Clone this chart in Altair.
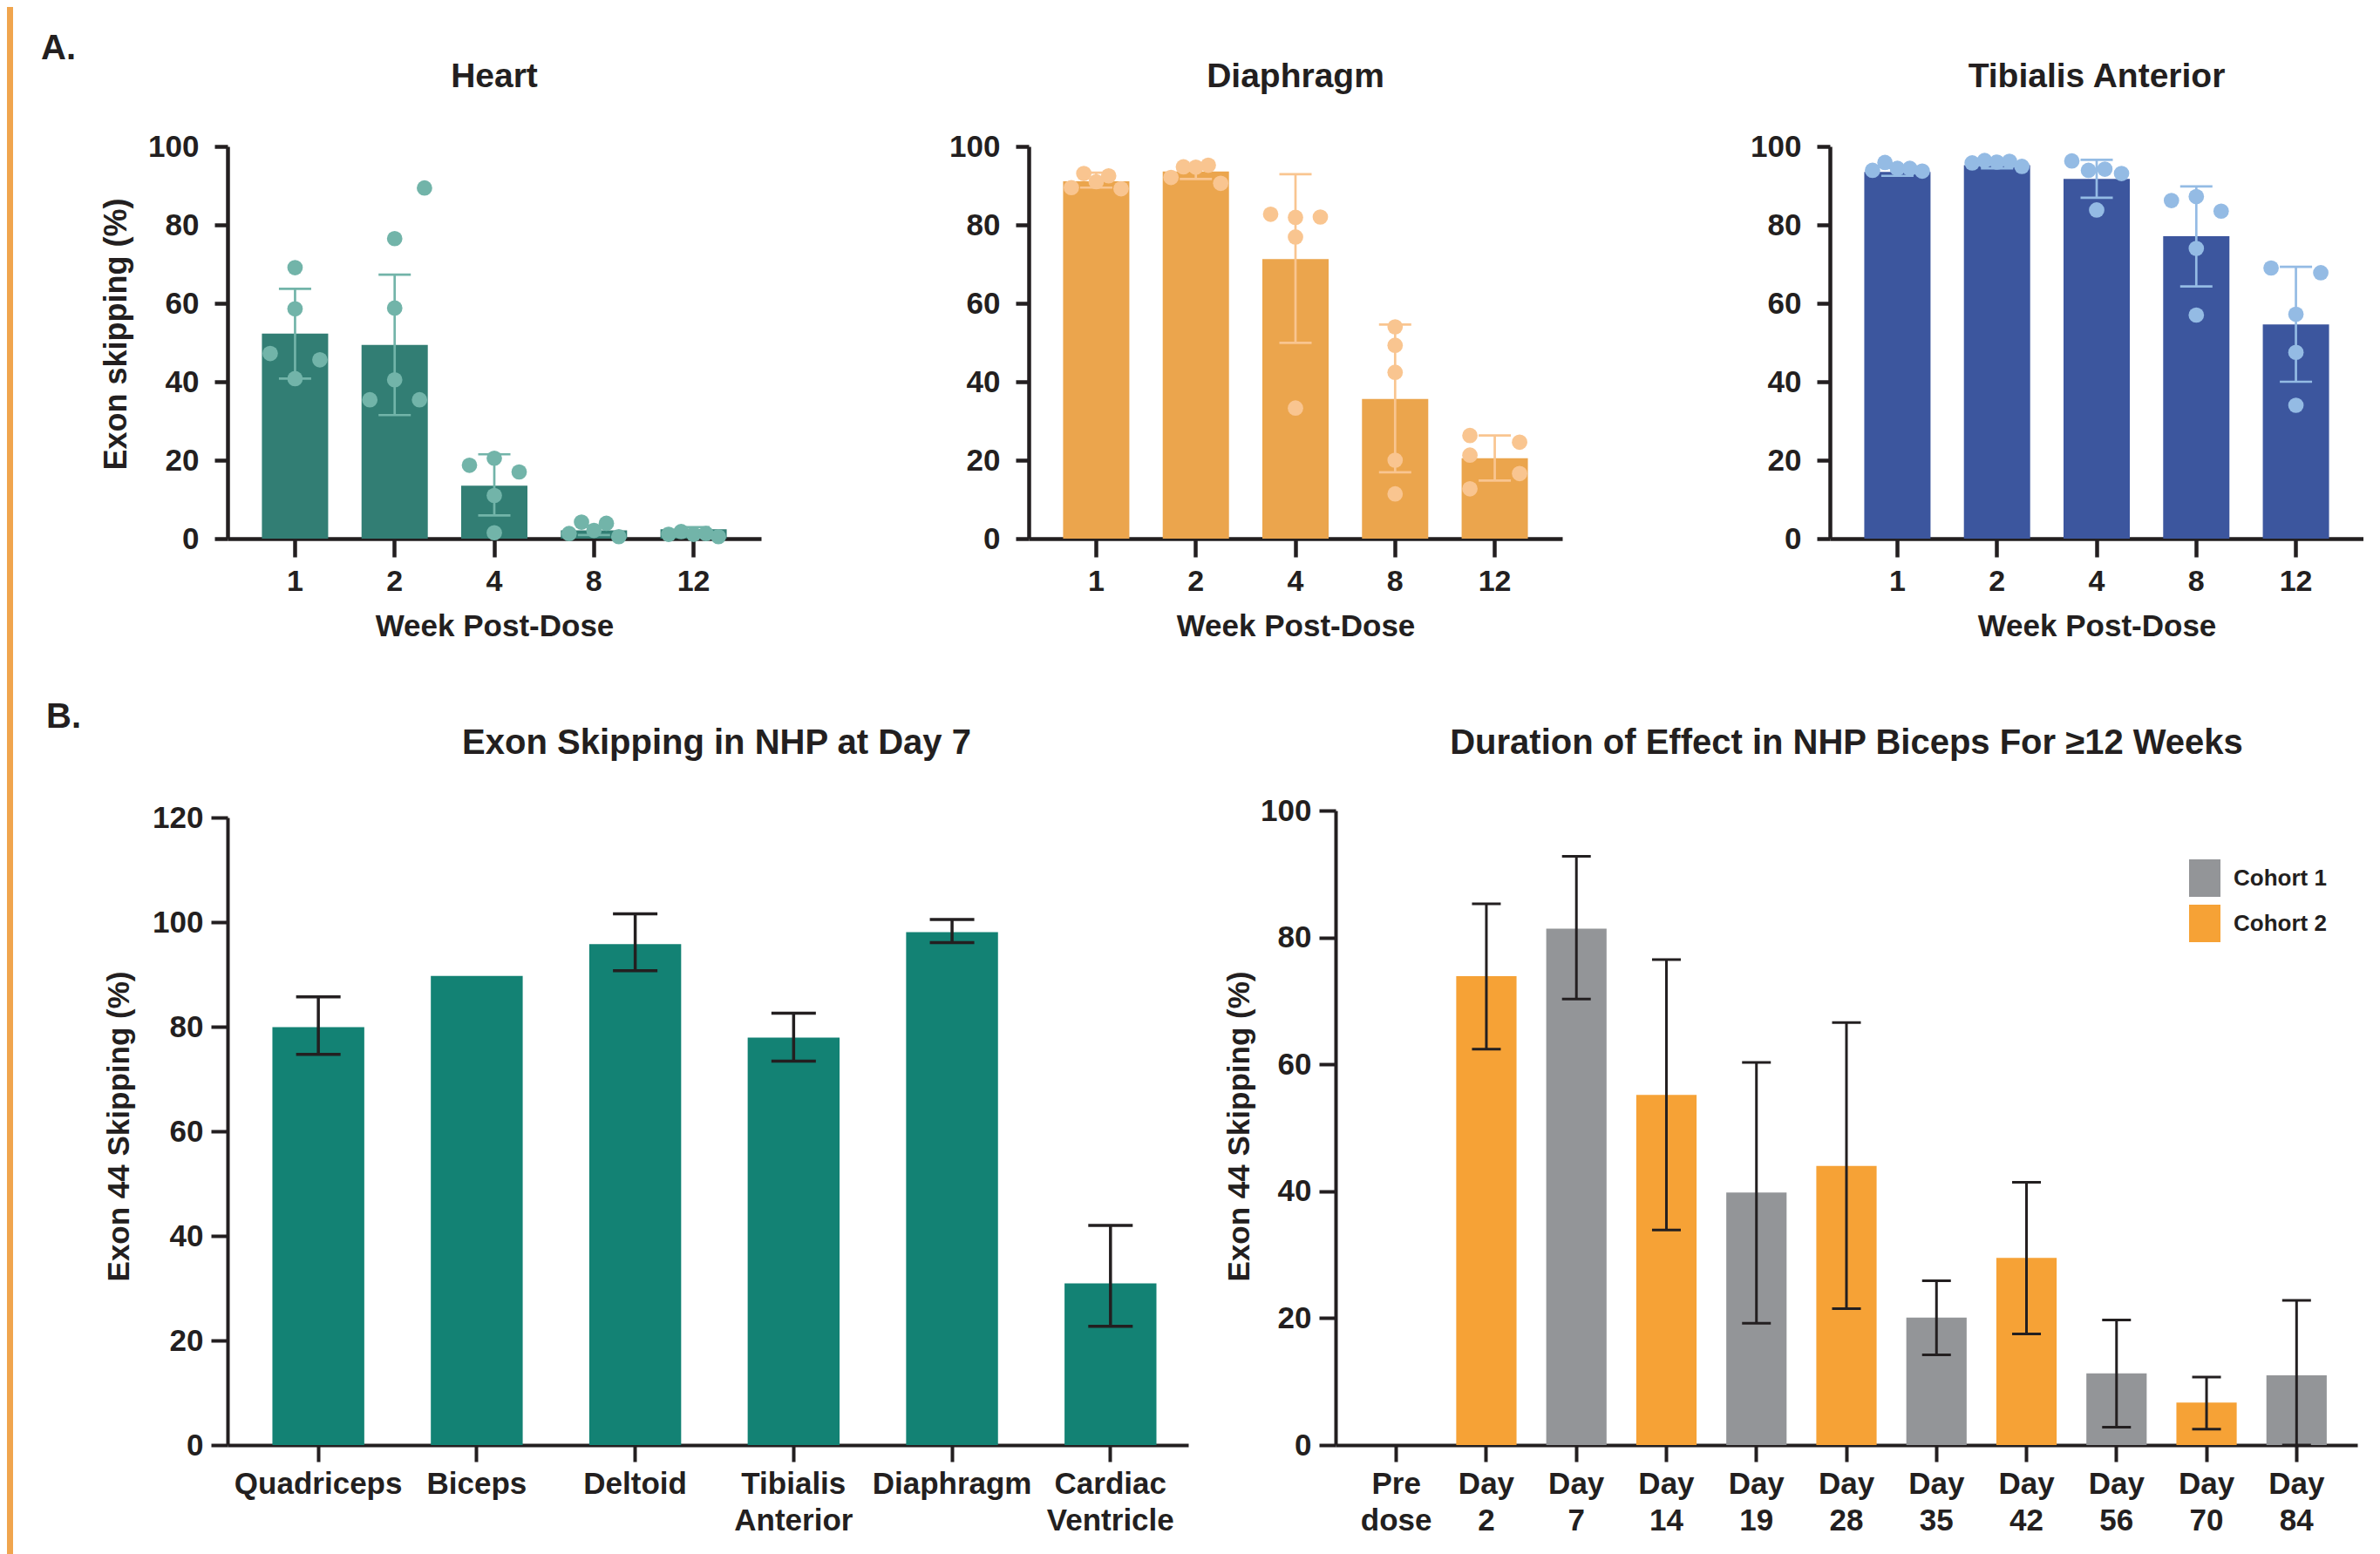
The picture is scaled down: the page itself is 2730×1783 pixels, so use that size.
import altair as alt
import pandas as pd

# ---------------- data ----------------
WEEKS = ["1", "2", "4", "8", "12"]

heart_mean = [52.3, 49.4, 13.5, 2.1, 2.4]
heart_lo = [40.8, 31.5, 5.9, 0.9, 1.9]
heart_hi = [63.7, 67.3, 21.5, 3.3, 2.9]
heart_pts = [[69.1, 58.6, 47.2, 45.6, 40.8],
             [89.4, 76.5, 58.8, 40.5, 35.4, 35.4],
             [20.5, 18.7, 17.0, 11.0, 1.5],
             [4.2, 3.9, 2.1, 1.3, 0.5],
             [1.1, 1.8, 1.1, 1.3, 0.5]]
heart_slots = [[0, 0, -1, 1, 0],
               [1.2, 0, 0, 0, -1, 1],
               [0, -1, 1, 0, 0],
               [-0.5, 0.5, 0, -1, 1],
               [-1, -0.5, 0, 0.5, 1]]

diaph_mean = [91.1, 93.6, 71.3, 35.6, 20.5]
diaph_lo = [89.5, 91.7, 49.9, 16.9, 14.8]
diaph_hi = [93.3, 95.0, 92.9, 54.6, 26.3]
diaph_pts = [[93.1, 92.5, 91.0, 89.5, 89.2],
             [94.8, 94.7, 95.2, 92.1, 90.6],
             [82.7, 81.9, 82.0, 76.9, 33.3],
             [54.0, 49.3, 42.4, 20.0, 11.4],
             [26.3, 21.3, 12.7, 24.6, 16.6]]
diaph_slots = [[-0.5, 0.5, 0, -1, 1],
               [-0.5, 0, 0.5, -1, 1],
               [-1, 0, 1, 0, 0],
               [0, 0, 0, 0, 0],
               [-1, -1, -1, 1, 1]]

ta_mean = [93.5, 95.2, 91.7, 77.1, 54.6]
ta_lo = [92.5, 94.4, 86.9, 64.3, 40.0]
ta_hi = [94.5, 96.0, 96.6, 89.8, 69.3]
ta_pts = [[93.9, 95.9, 94.4, 94.4, 93.7],
          [95.8, 96.4, 96.0, 96.2, 94.9],
          [96.3, 93.9, 94.2, 93.1, 83.8],
          [86.2, 87.2, 83.5, 74.0, 57.0],
          [69.0, 67.8, 57.2, 47.5, 34.0]]
ta_slots = [[-1, -0.5, 0, 0.5, 1],
            [-1, -0.5, 0, 0.5, 1],
            [-1, -0.33, 0.33, 1, 0],
            [-1, 0, 1, 0, 0],
            [-1, 1, 0, 0, 0]]

TISSUES = ["Quadriceps", "Biceps", "Deltoid", "Tibialis|Anterior", "Diaphragm", "Cardiac|Ventricle"]
tissue_mean = [79.9, 89.7, 95.8, 77.9, 98.1, 30.9]
tissue_lo = [74.7, None, 90.7, 73.4, 96.1, 22.7]
tissue_hi = [85.7, None, 101.6, 82.6, 100.5, 42.0]

DAYS = ["Pre|dose", "Day|2", "Day|7", "Day|14", "Day|19", "Day|28", "Day|35",
        "Day|42", "Day|56", "Day|70", "Day|84"]
day_cohort = [None, "Cohort 2", "Cohort 1", "Cohort 2", "Cohort 1", "Cohort 2",
              "Cohort 1", "Cohort 2", "Cohort 1", "Cohort 2", "Cohort 1"]
day_mean = [None, 73.9, 81.4, 55.2, 39.8, 44.0, 20.1, 29.5, 11.3, 6.7, 11.0]
day_lo = [None, 62.4, 70.3, 33.9, 19.2, 21.5, 14.2, 17.5, 2.8, 2.5, 0.0]
day_hi = [None, 85.3, 92.8, 76.5, 60.3, 66.6, 25.9, 41.4, 19.7, 10.7, 22.8]

# ---------------- style ----------------
INK = "#231F20"
FONT = "Liberation Sans"
STRIPE = "#F0A54E"
SLOT_PX = 28.5


def text_layer(txt, x, y, size, align="center"):
    return alt.Chart(pd.DataFrame({"t": [txt]})).mark_text(
        font=FONT, fontSize=size, fontWeight="bold", color=INK,
        align=align, baseline="middle").encode(
        x=alt.value(x), y=alt.value(y), text="t:N")


def rect_layer(x, x2, y, y2, color, opacity=1.0):
    return alt.Chart(pd.DataFrame({"k": [0]})).mark_rect(
        color=color, opacity=opacity).encode(
        x=alt.value(x), x2=alt.value(x2), y=alt.value(y), y2=alt.value(y2))


TW, TH = 612, 450


def top_panel(title, mean, lo, hi, pts, slots, bar_c, pt_c, first=False):
    summ = pd.DataFrame({"week": WEEKS, "mean": mean, "lo": lo, "hi": hi})
    rows = []
    for w, vals, sl in zip(WEEKS, pts, slots):
        for v, s in zip(vals, sl):
            rows.append({"week": w, "val": v, "slot": s})
    pdf = pd.DataFrame(rows)

    xscale = alt.Scale(domain=WEEKS, paddingInner=0.335, paddingOuter=0.345)
    xaxis = alt.Axis(labelAngle=0, domainWidth=4.5, domainColor=INK, tickWidth=4.5,
                     tickColor=INK, tickSize=21, labelPadding=11, labelFontSize=34,
                     labelFont=FONT, labelFontWeight="bold", labelColor=INK,
                     title="Week Post-Dose", titleFont=FONT, titleFontSize=35,
                     titleFontWeight="bold", titleColor=INK, titleX=TW / 2, titleY=100,
                     titleBaseline="middle", titleAlign="center", grid=False)

    def X():
        return alt.X("week:N", sort=WEEKS, scale=xscale, axis=xaxis)

    yscale = alt.Scale(domain=[0, 100], nice=False)
    ykw = dict(values=[0, 20, 40, 60, 80, 100], domainWidth=4.5, domainColor=INK,
               tickWidth=4.5, tickColor=INK, tickSize=15, labelPadding=18,
               labelFontSize=35, labelFont=FONT, labelFontWeight="bold",
               labelColor=INK, grid=False)
    if first:
        yaxis = alt.Axis(title="Exon skipping (%)", titleFont=FONT, titleFontSize=36,
                         titleFontWeight="bold", titleColor=INK, titleX=-128,
                         titleY=215, titleAngle=270, titleBaseline="middle",
                         titleAlign="center", **ykw)
    else:
        yaxis = alt.Axis(title=None, **ykw)

    def Y(field):
        return alt.Y(field, scale=yscale, axis=yaxis)

    bars = alt.Chart(summ).mark_bar(color=bar_c, width=alt.RelativeBandSize(1)).encode(
        x=X(), y=Y("mean:Q"))
    rule = alt.Chart(summ).mark_rule(color=pt_c, strokeWidth=2.7).encode(
        x=X(), y=Y("lo:Q"), y2="hi:Q")
    tick_hi = alt.Chart(summ).mark_tick(color=pt_c, thickness=2.7, size=37, opacity=1).encode(
        x=X(), y=Y("hi:Q"))
    tick_lo = alt.Chart(summ).mark_tick(color=pt_c, thickness=2.7, size=37, opacity=1).encode(
        x=X(), y=Y("lo:Q"))
    layers = [bars, rule, tick_hi, tick_lo]
    for s in sorted(set(pdf["slot"])):
        layers.append(
            alt.Chart(pdf[pdf["slot"] == s]).mark_circle(
                color=pt_c, size=315, opacity=1, xOffset=s * SLOT_PX).encode(
                x=X(), y=Y("val:Q")))
    layers.append(text_layer(title, TW / 2, -80, 39))
    if first:
        layers += [text_layer("A.", -214, -112, 40, align="left"),
                   rect_layer(-253, -246, -160, 600, STRIPE)]
    else:
        layers += [rect_layer(0, 1, -160, -150, "#ffffff", opacity=0)]
    return alt.layer(*layers).properties(width=TW, height=TH)


heart = top_panel("Heart", heart_mean, heart_lo, heart_hi, heart_pts, heart_slots,
                  "#327E74", "#72B4A9", first=True)
diaph = top_panel("Diaphragm", diaph_mean, diaph_lo, diaph_hi, diaph_pts, diaph_slots,
                  "#EBA54D", "#F9C590")
tib = top_panel("Tibialis Anterior", ta_mean, ta_lo, ta_hi, ta_pts, ta_slots,
                "#3C569E", "#94BBE4")

BH = 728


def bottom_axis_x():
    return alt.Axis(labelAngle=0, labelExpr="split(datum.value, '|')", labelLineHeight=42,
                    domainWidth=4, domainColor=INK, tickWidth=4, tickColor=INK,
                    tickSize=19, labelPadding=8, labelFontSize=35, labelFont=FONT,
                    labelFontWeight="bold", labelColor=INK, labelOverlap=False,
                    labelLimit=0, title=None, grid=False)


def bottom_axis_y(values, tx):
    return alt.Axis(values=values, domainWidth=4, domainColor=INK, tickWidth=4,
                    tickColor=INK, tickSize=19, labelPadding=9, labelFontSize=35,
                    labelFont=FONT, labelFontWeight="bold", labelColor=INK, grid=False,
                    title="Exon 44 Skipping (%)", titleFont=FONT, titleFontSize=35,
                    titleFontWeight="bold", titleColor=INK, titleX=tx, titleY=362,
                    titleAngle=270, titleBaseline="middle", titleAlign="center")


# ---- bottom-left ----
BLW = 1102
bl_df = pd.DataFrame({"tissue": TISSUES, "mean": tissue_mean, "lo": tissue_lo, "hi": tissue_hi})
bl_err = bl_df.dropna()
bl_xs = alt.Scale(domain=TISSUES, paddingInner=0.42, paddingOuter=0.242, align=0.585)
bl_xa = bottom_axis_x()
bl_ys = alt.Scale(domain=[0, 120], range=[BH, 8], nice=False)
bl_ya = bottom_axis_y([0, 20, 40, 60, 80, 100, 120], -125)


def BLX():
    return alt.X("tissue:N", sort=TISSUES, scale=bl_xs, axis=bl_xa)


def BLY(f):
    return alt.Y(f, scale=bl_ys, axis=bl_ya)


bl = alt.layer(
    alt.Chart(bl_df).mark_bar(color="#138274", width=alt.RelativeBandSize(1)).encode(
        x=BLX(), y=BLY("mean:Q")),
    alt.Chart(bl_err).mark_rule(color=INK, strokeWidth=3.5).encode(
        x=BLX(), y=BLY("lo:Q"), y2="hi:Q"),
    alt.Chart(bl_err).mark_tick(color=INK, thickness=3.5, size=51, opacity=1).encode(
        x=BLX(), y=BLY("hi:Q")),
    alt.Chart(bl_err).mark_tick(color=INK, thickness=3.5, size=51, opacity=1).encode(
        x=BLX(), y=BLY("lo:Q")),
    text_layer("Exon Skipping in NHP at Day 7", 561, -77, 40),
    text_layer("B.", -208, -107, 40, align="left"),
    rect_layer(-253, -246, -162, 853, STRIPE),
).properties(width=BLW, height=BH)

# ---- bottom-right ----
BRW = 1172
br_df = pd.DataFrame({"day": DAYS, "cohort": day_cohort, "mean": day_mean,
                      "lo": day_lo, "hi": day_hi}).dropna()
br_xs = alt.Scale(domain=DAYS, paddingInner=0.33, paddingOuter=0.34)
br_xa = bottom_axis_x()
br_ys = alt.Scale(domain=[0, 100], nice=False)
br_ya = bottom_axis_y([0, 20, 40, 60, 80, 100], -111)


def BRX():
    return alt.X("day:N", sort=DAYS, scale=br_xs, axis=br_xa)


def BRY(f):
    return alt.Y(f, scale=br_ys, axis=br_ya)


legend = alt.Legend(orient="none", legendX=2250, legendY=821.5, title=None,
                    symbolType="M-1,-1.2H1V1.2H-1Z", symbolSize=1296,
                    symbolStrokeWidth=0, symbolOpacity=1, labelFont=FONT,
                    labelFontSize=26, labelFontWeight="bold", labelColor=INK,
                    labelOffset=15, rowPadding=8, padding=0)
br = alt.layer(
    alt.Chart(br_df).mark_bar(width=alt.RelativeBandSize(1)).encode(
        x=BRX(), y=BRY("mean:Q"),
        color=alt.Color("cohort:N",
                        scale=alt.Scale(domain=["Cohort 1", "Cohort 2"],
                                        range=["#939598", "#F6A236"]),
                        legend=legend)),
    alt.Chart(br_df).mark_rule(color=INK, strokeWidth=3).encode(
        x=BRX(), y=BRY("lo:Q"), y2="hi:Q"),
    alt.Chart(br_df).mark_tick(color=INK, thickness=3, size=33, opacity=1).encode(
        x=BRX(), y=BRY("hi:Q")),
    alt.Chart(br_df).mark_tick(color=INK, thickness=3, size=33, opacity=1).encode(
        x=BRX(), y=BRY("lo:Q")),
    text_layer("Duration of Effect in NHP Biceps For \u226512 Weeks", 586, -77, 40),
    rect_layer(0, 1, -162, -150, "#ffffff", opacity=0),
).properties(width=BRW, height=BH)

top = alt.hconcat(heart, diaph, tib, spacing=215)
bottom = alt.hconcat(bl, br, spacing=41)

chart = alt.vconcat(top, bottom, spacing=0).properties(
    padding=0, background="white"
).configure(font=FONT).configure_view(stroke=None)

chart.save("out.html", embed_options={"renderer": "svg", "actions": False})
